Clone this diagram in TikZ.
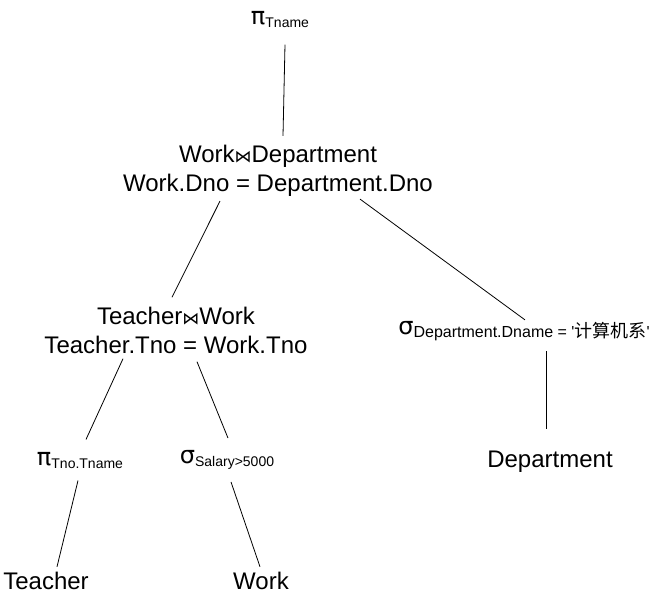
\documentclass[tikz,border=0pt]{standalone}
\usepackage{fontspec}
\setmainfont{Liberation Sans}
\newfontfamily\cjkfont{Noto Sans CJK SC}
\newfontfamily\symfont{DejaVu Sans}
\usetikzlibrary{positioning,calc}

\newcommand{\opsub}[2][14]{\raisebox{-3pt}{\fontsize{#1}{16}\selectfont #2}}
\newcommand{\njoin}{{\symfont\fontsize{17}{20}\selectfont ⋈}}
\newcommand{\oppi}{{\symfont π}}
\newcommand{\opsigma}{{\symfont σ}}

\begin{document}
\begin{tikzpicture}[x=1pt, y=-1pt, line width=0.8pt, every node/.style={inner sep=0pt, align=center, font=\fontsize{24}{29}\selectfont}]
\useasboundingbox (0,0) rectangle (667,595);
% Projection at the root
\node (proj) at (280,20) {\oppi\opsub{Tname}};
% Join nodes
\node (joinwd) at (278,171) {Work\njoin Department\\Work.Dno = Department.Dno};
\node (jointw) at (176,330) {Teacher\njoin Work\\Teacher.Tno = Work.Tno};
% Selections and projections
\node (seldept) at (524,331) {\opsigma\opsub[16]{Department.Dname = \textquotesingle{\cjkfont\fontsize{18}{20}\selectfont 计算机系}\textquotesingle}};
\node (projt) at (80,460) {\oppi\opsub{Tno.Tname}};
\node (selsal) at (227,460) {\opsigma\opsub{Salary>5000}};
% Base relations
\node (teacher) at (46,581) {Teacher};
\node (work) at (261,581) {Work};
\node (dept) at (550,462) {Department};

% Tree edges
\draw ([xshift=5pt,yshift=-16pt]proj.south) -- ([xshift=5pt,yshift=9pt]joinwd.north);
\draw ([xshift=-58pt,yshift=-4pt]joinwd.south) -- ([xshift=-4pt,yshift=9pt]jointw.north);
\draw ([xshift=82pt,yshift=-2pt]joinwd.south) -- ([xshift=1pt,yshift=1pt]seldept.north);
\draw ([xshift=-53pt,yshift=-5pt]jointw.south) -- ([xshift=6pt,yshift=12pt]projt.north);
\draw ([xshift=21pt,yshift=-8pt]jointw.south) -- ([xshift=1pt,yshift=12pt]selsal.north);
\draw ([xshift=-2pt,yshift=-12pt]projt.south) -- ([xshift=11pt,yshift=5pt]teacher.north);
\draw ([xshift=4pt,yshift=-12pt]selsal.south) -- ([xshift=-1pt,yshift=5pt]work.north);
\draw ([xshift=22pt,yshift=-10pt]seldept.south) -- ([xshift=-4pt,yshift=22pt]dept.north);
\end{tikzpicture}
\end{document}
